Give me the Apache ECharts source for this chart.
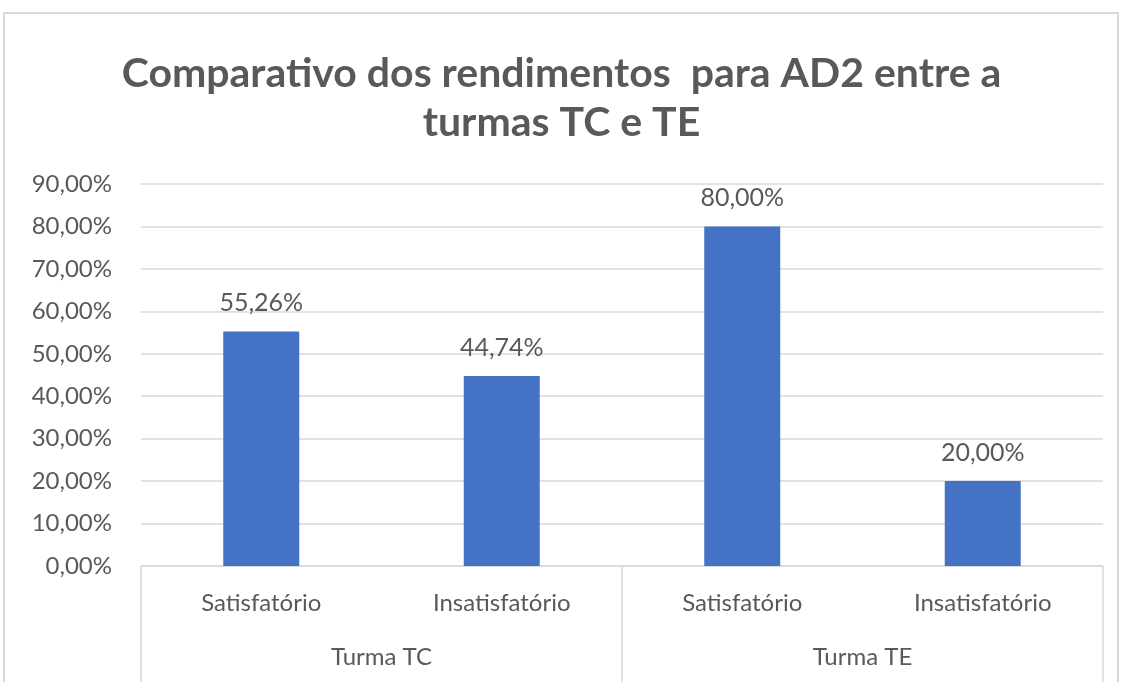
<!DOCTYPE html>
<html>
<head>
<meta charset="utf-8">
<script src="https://cdn.jsdelivr.net/npm/echarts@6/dist/echarts.min.js"></script>
<style>
  html, body { margin: 0; padding: 0; background: #fff; }
  #chart { width: 1123px; height: 682px; }
</style>
</head>
<body>
<div id="chart"></div>
<script>
// dados do grafico
var categorias = ['Satisfatório', 'Insatisfatório', 'Satisfatório', 'Insatisfatório'];
var turmas = ['Turma TC', 'Turma TE'];
var rendimentos = [55.26, 44.74, 80.00, 20.00];
var yMax = 90;
var yPasso = 10;

function pct(v) {
    return v.toFixed(2).replace('.', ',') + '%';
}

var myChart = echarts.init(document.getElementById('chart'));
var option = {
    backgroundColor: '#fff',
    title: {
        text: 'Comparativo dos rendimentos  para AD2 entre a\nturmas TC e TE',
        left: 'center',
        top: 44,
        padding: [5, 5, 5, 27],
        textStyle: {
            fontFamily: 'Lato',
            fontWeight: 'bold',
            fontSize: 41,
            lineHeight: 49,
            color: '#595959'
        }
    },
    graphic: [{
        type: 'rect',
        shape: { x: 4, y: 13, width: 1114, height: 700 },
        style: { fill: 'none', stroke: '#d9d9d9', lineWidth: 2 },
        silent: true
    }],
    grid: {
        top: 184,
        left: 141,
        right: 20,
        bottom: 116
    },
    xAxis: [{
        type: 'category',
        data: categorias,
        boundaryGap: true,
        axisTick: { show: false },
        axisLine: { lineStyle: { color: '#d9d9d9', width: 1.5 } },
        axisLabel: {
            interval: 0,
            margin: 25,
            fontFamily: 'Lato',
            fontSize: 24,
            color: '#595959'
        }
    }, {
        type: 'category',
        data: turmas,
        position: 'bottom',
        boundaryGap: true,
        axisLine: { show: false },
        axisTick: {
            show: true,
            interval: 0,
            length: 116,
            lineStyle: { color: '#d9d9d9', width: 1.5 }
        },
        axisLabel: {
            interval: 0,
            margin: 79,
            fontFamily: 'Lato',
            fontSize: 24,
            color: '#595959'
        }
    }],
    yAxis: {
        type: 'value',
        min: 0,
        max: yMax,
        interval: yPasso,
        axisLine: { show: false },
        axisTick: { show: false },
        splitLine: { lineStyle: { color: '#d9d9d9', width: 1.5 } },
        axisLabel: {
            margin: 29,
            fontFamily: 'Lato',
            fontSize: 24,
            color: '#595959',
            formatter: pct
        }
    },
    series: [{
        type: 'bar',
        xAxisIndex: 0,
        barWidth: 76,
        data: rendimentos,
        itemStyle: { color: '#4472c4' },
        label: {
            show: true,
            position: 'top',
            distance: 16,
            fontFamily: 'Lato',
            fontSize: 25,
            color: '#595959',
            formatter: function (p) { return pct(p.value); }
        }
    }]
};

myChart.setOption(option);
</script>
</body>
</html>
